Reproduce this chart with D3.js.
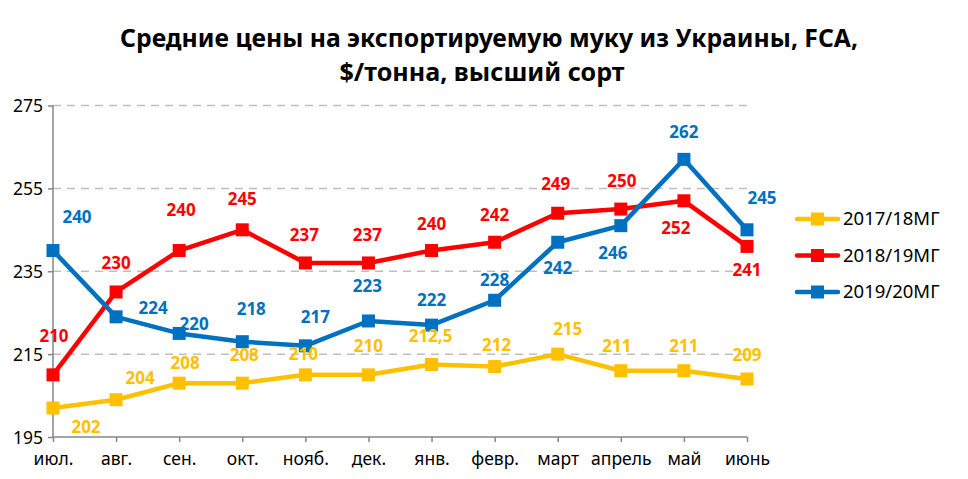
<!DOCTYPE html>
<html><head><meta charset="utf-8">
<script src="https://cdn.jsdelivr.net/npm/d3@7"></script>
<style>body{margin:0;background:#fff}svg{display:block}</style>
</head><body>
<svg id="c" width="968" height="479"></svg>
<script>
const categories = ["июл.","авг.","сен.","окт.","нояб.","дек.","янв.","февр.","март","апрель","май","июнь"];
const series1 = [202,204,208,208,210,210,212.5,212,215,211,211,209];
const series2 = [210,230,240,245,237,237,240,242,249,250,252,241];
const series3 = [240,224,220,218,217,223,222,228,242,246,262,245];
const seriesNames = ["2017/18МГ","2018/19МГ","2019/20МГ"];
const yTicks = [195,215,235,255,275];
const titleLines = ["Средние цены на экспортируемую муку из Украины, FCA,","$/тонна, высший сорт"];
// label offsets (dx, dy) relative to point
const off1 = [[33,19],[24,-22],[6,-20],[2,-28],[-2,-21],[0,-29],[-1,-28],[2,-22],[10,-25],[-4,-25],[0,-25],[0,-24]];
const off2 = [[1,-39],[0,-29],[2,-40],[0,-31],[-1,-28],[-1,-28],[0,-26],[0,-27],[-2,-29],[1,-28],[-8,27],[0,24]];
const off3 = [[24,-33],[37,-9],[15,-9],[9,-33],[10,-29],[-1,-35],[0,-25],[0,-20],[0,26],[-8,27],[0,-27],[15,-32]];

const colors = ["#FFC000","#FF0000","#0070C0"];
const svg = d3.select("#c");
const font = "'Noto Sans', 'Open Sans', sans-serif";

const x = d3.scalePoint().domain(categories).range([53,747]).padding(0);
const y = d3.scaleLinear().domain([195,275]).range([437,105.5]);

// title
const tl = [{t:titleLines[0],x:489,y:47,len:738},{t:titleLines[1],x:482,y:81,len:285}];
svg.selectAll("text.title").data(tl).enter().append("text")
  .attr("x",d=>d.x).attr("y",d=>d.y).attr("text-anchor","middle")
  .attr("textLength",d=>d.len).attr("lengthAdjust","spacingAndGlyphs")
  .style("font-family",font).style("font-weight","bold").style("font-size","25px")
  .text(d=>d.t);

// gridlines
svg.append("g").selectAll("line").data(yTicks.slice(1)).enter().append("line")
  .attr("x1",53).attr("x2",747).attr("y1",d=>y(d)).attr("y2",d=>y(d))
  .attr("stroke","#BFBFBF").attr("stroke-width",1.5).attr("stroke-dasharray","8,6");

// y axis
const yAxis = d3.axisLeft(y).tickValues(yTicks).tickSize(5).tickPadding(5).tickFormat(d3.format("d"));
const gy = svg.append("g").attr("transform","translate(53,0)").call(yAxis);
// x axis
const xAxis = d3.axisBottom(x).tickSize(5).tickPadding(11);
const gx = svg.append("g").attr("transform","translate(0,437)").call(xAxis);
[gy,gx].forEach(g=>{
  g.selectAll("path,line").attr("stroke","#868686").attr("stroke-width",1.5);
  g.selectAll("text").style("font-family",font).style("font-size","17.5px").attr("fill","#000");
});
gy.select(".domain").attr("d","M0,105.5V437");
gx.select(".domain").attr("d","M53,0H747");
gy.selectAll("text").attr("dy","0.35em");

const all = [series1,series2,series3];
const offs = [off1,off2,off3];
const line = d3.line().x((d,i)=>x(categories[i])).y(d=>y(d));
all.forEach((s,k)=>{
  const g = svg.append("g");
  g.append("path").datum(s).attr("d",line).attr("fill","none")
    .attr("stroke",colors[k]).attr("stroke-width",4.5).attr("stroke-linejoin","round");
  g.selectAll("rect").data(s).enter().append("rect")
    .attr("x",(d,i)=>x(categories[i])-6.5).attr("y",d=>y(d)-6.5)
    .attr("width",13).attr("height",13).attr("fill",colors[k]);
});
all.forEach((s,k)=>{
  svg.append("g").selectAll("text").data(s).enter().append("text")
    .attr("x",(d,i)=>x(categories[i])+offs[k][i][0])
    .attr("y",(d,i)=>y(d)+offs[k][i][1])
    .attr("dy","0.35em").attr("text-anchor","middle")
    .style("font-family",font).style("font-weight","bold").style("font-size","17px")
    .attr("fill",colors[k])
    .text(d=>String(d).replace(".",","));
});

// legend
const lg = svg.append("g");
seriesNames.forEach((n,k)=>{
  const yy = 219 + k*36.5;
  lg.append("line").attr("x1",797).attr("x2",838).attr("y1",yy).attr("y2",yy)
    .attr("stroke",colors[k]).attr("stroke-width",4.5).attr("stroke-linecap","round");
  lg.append("rect").attr("x",811).attr("y",yy-6.5).attr("width",13).attr("height",13).attr("fill",colors[k]);
  lg.append("text").attr("x",843).attr("y",yy).attr("dy","0.35em")
    .style("font-family",font).style("font-size","18.5px").attr("fill","#000").text(n);
});
</script>
</body></html>
